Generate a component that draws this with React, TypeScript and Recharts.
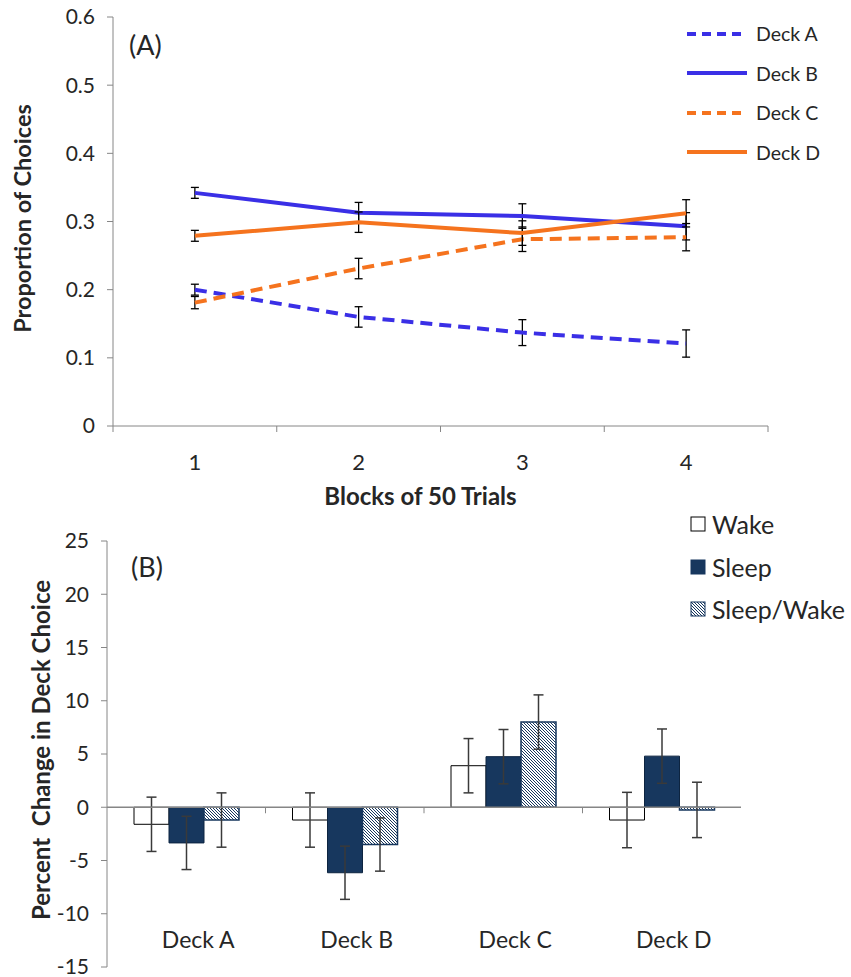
import React from 'react'
import {
  LineChart, Line, BarChart, Bar, XAxis, YAxis, ErrorBar, Legend,
  ReferenceLine, Label,
} from 'recharts'

// (A) proportion of choices per block of 50 trials
const blocks = ['1', '2', '3', '4']
const deckA = [0.2, 0.16, 0.137, 0.121]
const deckAErr = [0.008, 0.015, 0.019, 0.02]
const deckB = [0.342, 0.313, 0.308, 0.293]
const deckBErr = [0.008, 0.015, 0.018, 0.02]
const deckC = [0.181, 0.231, 0.274, 0.277]
const deckCErr = [0.009, 0.015, 0.018, 0.02]
const deckD = [0.279, 0.299, 0.283, 0.312]
const deckDErr = [0.008, 0.015, 0.018, 0.02]
const propTicks = [0, 0.1, 0.2, 0.3, 0.4, 0.5, 0.6]

// (B) percent change in deck choice
const decks = ['Deck A', 'Deck B', 'Deck C', 'Deck D']
const wake = [-1.6, -1.2, 3.9, -1.2]
const wakeErr = [2.55, 2.55, 2.55, 2.6]
const sleep = [-3.35, -6.15, 4.75, 4.8]
const sleepErr = [2.5, 2.5, 2.55, 2.55]
const sleepWake = [-1.2, -3.5, 8.0, -0.25]
const sleepWakeErr = [2.55, 2.5, 2.55, 2.6]
const pctTicks = [-15, -10, -5, 0, 5, 10, 15, 20, 25]

const FONT = 'Lato, Carlito, Calibri, sans-serif'
const AXIS = '#868686'
const TEXT = '#262626'
const BLUE = '#3a2fe6'
const ORANGE = '#f5731e'
const NAVY = '#17375e'

const lineData = blocks.map((b, i) => ({
  block: b,
  deckA: deckA[i], errA: deckAErr[i],
  deckB: deckB[i], errB: deckBErr[i],
  deckC: deckC[i], errC: deckCErr[i],
  deckD: deckD[i], errD: deckDErr[i],
}))

const barData = decks.map((d, i) => ({
  deck: d,
  wake: wake[i], wakeErr: wakeErr[i],
  sleep: sleep[i], sleepErr: sleepErr[i],
  sleepWake: sleepWake[i], sleepWakeErr: sleepWakeErr[i],
}))

const lineSeries = [
  { key: 'deckA', err: 'errA', name: 'Deck A', color: BLUE, dash: '12 7' },
  { key: 'deckB', err: 'errB', name: 'Deck B', color: BLUE, dash: undefined },
  { key: 'deckC', err: 'errC', name: 'Deck C', color: ORANGE, dash: '12 7' },
  { key: 'deckD', err: 'errD', name: 'Deck D', color: ORANGE, dash: undefined },
]

const TOP = { w: 851, h: 520, left: 113, right: 83, top: 17, xAxisH: 94 }
const BOT = { w: 851, h: 457, left: 107, right: 110, top: 21, xAxisH: 10 }

function BlockTick(props: any) {
  const { x, y, index } = props
  const band = (TOP.w - TOP.left - TOP.right) / blocks.length
  const bx = x - band / 2
  return (
    <g>
      <line x1={bx} x2={bx} y1={y} y2={y + 6} stroke={AXIS} />
      {index === blocks.length - 1 && (
        <line x1={x + band / 2} x2={x + band / 2} y1={y} y2={y + 6} stroke={AXIS} />
      )}
      <text x={x} y={y + 44} textAnchor="middle" fontSize={22} fill={TEXT} fontFamily={FONT}>
        {props.payload.value}
      </text>
    </g>
  )
}

function DeckTick(props: any) {
  const { x, y } = props
  return (
    <text x={x + 12} y={y - 19} textAnchor="middle" fontSize={23} fill={TEXT} fontFamily={FONT}>
      {props.payload.value}
    </text>
  )
}

function ZeroAxis(props: any) {
  const { x1, x2, y1 } = props
  const band = (x2 - x1) / decks.length
  return (
    <g>
      <line x1={x1} x2={x2} y1={y1} y2={y1} stroke={AXIS} strokeWidth={1.5} />
      {decks.map((_, i) =>
        i > 0 ? (
          <line key={i} x1={x1 + band * i} x2={x1 + band * i} y1={y1} y2={y1 + 6} stroke={AXIS} />
        ) : null
      )}
    </g>
  )
}

function LineLegend() {
  return (
    <div style={{ fontFamily: FONT, fontSize: 19.5, color: TEXT }}>
      {lineSeries.map((s) => (
        <div key={s.key} style={{ display: 'flex', alignItems: 'center', height: 39.5 }}>
          <svg width={70} height={10}>
            <line x1={1} x2={61} y1={5} y2={5} stroke={s.color} strokeWidth={4}
              strokeDasharray={s.dash ? '9 6' : undefined} />
          </svg>
          <span>{s.name}</span>
        </div>
      ))}
    </div>
  )
}

function BarLegend() {
  const items = [
    { name: 'Wake', fill: '#fff', stroke: '#000' },
    { name: 'Sleep', fill: NAVY, stroke: NAVY },
    { name: 'Sleep/Wake', fill: 'url(#hatchLegend)', stroke: NAVY },
  ]
  return (
    <div style={{ fontFamily: FONT, fontSize: 25, color: TEXT }}>
      {items.map((it) => (
        <div key={it.name} style={{ display: 'flex', alignItems: 'center', height: 42.5 }}>
          <svg width={22} height={16}>
            <defs>
              <pattern id="hatchLegend" patternUnits="userSpaceOnUse" width={3} height={3}>
                <rect width={3} height={3} fill="#fff" />
                <path d="M0,0 L3,3 M-1,2 L1,4 M2,-1 L4,1" stroke={NAVY} strokeWidth={1} />
              </pattern>
            </defs>
            <rect x={1} y={1} width={14} height={14} fill={it.fill} stroke={it.stroke} strokeWidth={1} />
          </svg>
          <span>{it.name}</span>
        </div>
      ))}
    </div>
  )
}

export default function App() {
  return (
    <div style={{ position: 'absolute', left: 0, top: 0, width: 851, height: 977, background: '#fff' }}>
      <div style={{ position: 'absolute', left: 0, top: 0 }}>
        <LineChart
          width={TOP.w}
          height={TOP.h}
          data={lineData}
          margin={{ top: TOP.top, right: TOP.right, bottom: 0, left: 0 }}
        >
          <XAxis
            dataKey="block"
            scale="band"
            height={TOP.xAxisH}
            stroke={AXIS}
            tickLine={false}
            tickSize={0}
            tickMargin={0}
            tick={<BlockTick />}
            interval={0}
          >
            <Label
              content={({ viewBox }: any) => (
                <text
                  x={viewBox.x + viewBox.width / 2 - 20}
                  y={viewBox.y + 79}
                  textAnchor="middle"
                  fontSize={24}
                  fontWeight="bold"
                  fill={TEXT}
                  fontFamily={FONT}
                >
                  Blocks of 50 Trials
                </text>
              )}
            />
          </XAxis>
          <YAxis
            width={TOP.left}
            domain={[0, 0.6]}
            ticks={propTicks}
            interval={0}
            stroke={AXIS}
            tickSize={6}
            tickMargin={12}
            tick={{ fontSize: 21, fill: TEXT, fontFamily: FONT }}
          >
            <Label
              content={({ viewBox }: any) => (
                <text
                  transform={`translate(${viewBox.x + 22},${viewBox.y + viewBox.height / 2 - 3}) rotate(-90)`}
                  textAnchor="middle"
                  dominantBaseline="central"
                  fontSize={23.5}
                  fontWeight="bold"
                  fill={TEXT}
                  fontFamily={FONT}
                >
                  Proportion of Choices
                </text>
              )}
            />
          </YAxis>
          <Legend
            layout="vertical"
            align="center"
            verticalAlign="middle"
            wrapperStyle={{ top: 14, left: 686, width: 160 }}
            content={<LineLegend />}
          />
          {lineSeries.map((s) => (
            <Line
              key={s.key}
              dataKey={s.key}
              name={s.name}
              stroke={s.color}
              strokeWidth={4}
              strokeDasharray={s.dash}
              dot={false}
              activeDot={false}
              isAnimationActive={false}
            >
              <ErrorBar
                dataKey={s.err}
                direction="y"
                width={4}
                stroke="#000"
                strokeWidth={1.3}
              />
            </Line>
          ))}
        </LineChart>
        <div style={{ position: 'absolute', left: 129, top: 28, fontFamily: FONT, fontSize: 27, color: TEXT }}>(A)</div>
      </div>

      <div style={{ position: 'absolute', left: 0, top: 520 }}>
        <BarChart
          width={BOT.w}
          height={BOT.h}
          data={barData}
          margin={{ top: BOT.top, right: BOT.right, bottom: 0, left: 0 }}
          barGap={0}
        >
          <defs>
            <pattern id="hatch" patternUnits="userSpaceOnUse" width={3} height={3}>
              <rect width={3} height={3} fill="#fff" />
              <path d="M0,0 L3,3 M-1,2 L1,4 M2,-1 L4,1" stroke={NAVY} strokeWidth={1} />
            </pattern>
          </defs>
          <XAxis
            dataKey="deck"
            height={BOT.xAxisH}
            axisLine={false}
            tickLine={false}
            tickSize={0}
            tickMargin={0}
            tick={<DeckTick />}
            interval={0}
          />
          <YAxis
            width={BOT.left}
            domain={[-15, 25]}
            ticks={pctTicks}
            interval={0}
            stroke={AXIS}
            tickSize={6}
            tickMargin={12}
            tick={{ fontSize: 21, fill: TEXT, fontFamily: FONT }}
          >
            <Label
              content={({ viewBox }: any) => (
                <text
                  transform={`translate(${viewBox.x + 40},${viewBox.y + viewBox.height / 2 - 4}) rotate(-90)`}
                  textAnchor="middle"
                  dominantBaseline="central"
                  fontSize={24}
                  fontWeight="bold"
                  fill={TEXT}
                  fontFamily={FONT}
                  style={{ whiteSpace: 'pre' }}
                >
                  {'Percent  Change in Deck Choice'}
                </text>
              )}
            />
          </YAxis>
          <Legend
            layout="vertical"
            align="center"
            verticalAlign="middle"
            wrapperStyle={{ top: -17, left: 690, width: 161 }}
            content={<BarLegend />}
          />
          <Bar dataKey="wake" name="Wake" fill="#fff" stroke="#000" strokeWidth={1} barSize={35} isAnimationActive={false}>
            <ErrorBar dataKey="wakeErr" direction="y" width={5} stroke="#3a3a3a" strokeWidth={1.5} />
          </Bar>
          <Bar dataKey="sleep" name="Sleep" fill={NAVY} stroke="#0d2440" strokeWidth={1} barSize={35} isAnimationActive={false}>
            <ErrorBar dataKey="sleepErr" direction="y" width={5} stroke="#3a3a3a" strokeWidth={1.5} />
          </Bar>
          <Bar dataKey="sleepWake" name="Sleep/Wake" fill="url(#hatch)" stroke={NAVY} strokeWidth={1.5} barSize={35} isAnimationActive={false}>
            <ErrorBar dataKey="sleepWakeErr" direction="y" width={5} stroke="#3a3a3a" strokeWidth={1.5} />
          </Bar>
          <ReferenceLine y={0} shape={<ZeroAxis />} />
        </BarChart>
        <div style={{ position: 'absolute', left: 131, top: 30, fontFamily: FONT, fontSize: 27, color: TEXT }}>(B)</div>
      </div>
    </div>
  )
}
